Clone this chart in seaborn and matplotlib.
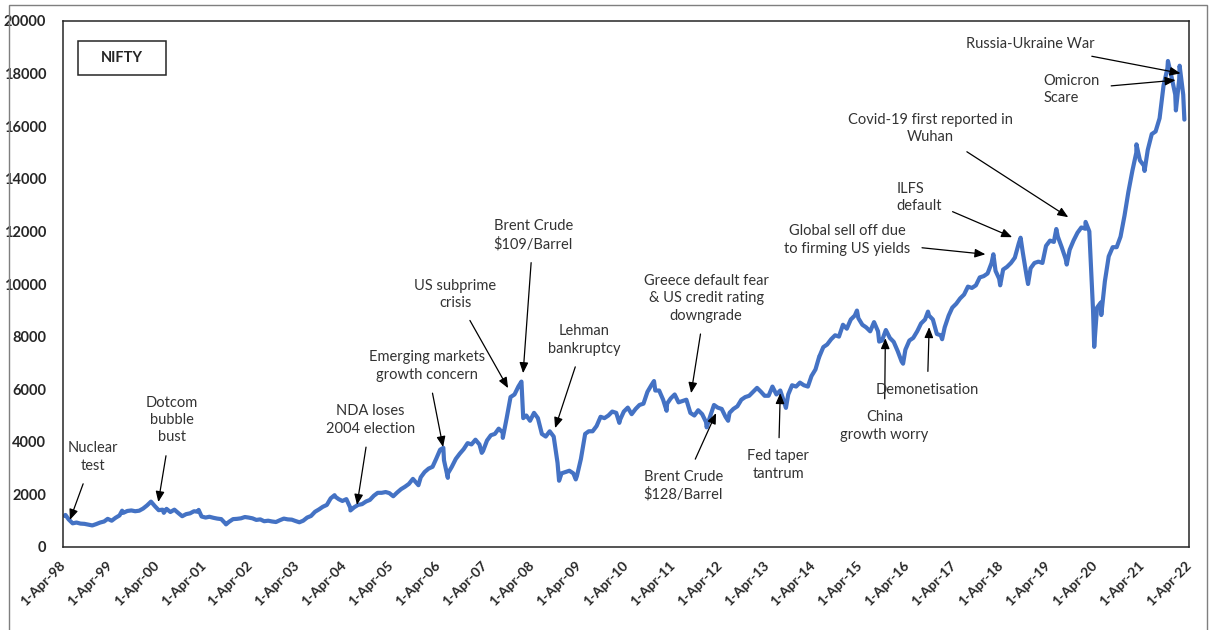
import matplotlib
matplotlib.use("Agg")
import matplotlib.pyplot as plt
import matplotlib.dates as mdates
from matplotlib.patches import Rectangle
import numpy as np
import pandas as pd
import seaborn as sns

# ---------------- data (NIFTY, monthly) ----------------
nifty_1998_2000 = [1180, 1050, 900, 930, 890, 880, 850, 820, 870,
                   930, 970, 1070, 1000, 1110, 1200, 1300, 1370, 1390, 1360, 1380, 1460,
                   1580, 1700, 1560, 1400, 1420, 1450, 1330, 1420, 1290, 1170, 1250, 1280]
nifty_2001_2003 = [1360, 1340, 1160, 1120, 1150, 1110, 1080, 1060, 900, 960, 1060, 1070,
                   1090, 1140, 1120, 1090, 1030, 1050, 980, 1000, 970, 950, 1020, 1080,
                   1050, 1040, 990, 940, 1000, 1120, 1180, 1340, 1430, 1530, 1600, 1850]
nifty_2004_2006 = [1930, 1820, 1750, 1820, 1500, 1510, 1600, 1630, 1730, 1790, 1950, 2060,
                   2060, 2090, 2050, 1930, 2070, 2200, 2290, 2400, 2590, 2420, 2650, 2850,
                   2980, 3050, 3350, 3700, 3300, 2800, 3050, 3350, 3550, 3720, 3950, 3900]
nifty_2007_2009 = [4080, 3900, 3650, 4050, 4250, 4300, 4500, 4350, 4900, 5700, 5800, 6100,
                   5600, 5000, 4800, 5100, 4900, 4300, 4200, 4400, 4200, 3200, 2800, 2850,
                   2900, 2800, 2700, 3350, 4200, 4400, 4400, 4600, 4950, 4900, 5000, 5150]
nifty_2010_2012 = [5100, 4850, 5150, 5300, 5050, 5250, 5400, 5450, 5900, 6150, 5950, 5950,
                   5600, 5450, 5650, 5800, 5500, 5550, 5600, 5100, 5000, 5200, 5050, 4750,
                   4950, 5400, 5300, 5250, 4950, 5100, 5250, 5350, 5600, 5700, 5750, 5900]
nifty_2013_2015 = [6050, 5900, 5750, 5750, 6100, 5800, 5950, 5500, 5800, 6150, 6100, 6250,
                   6150, 6100, 6500, 6750, 7250, 7600, 7700, 7900, 8050, 8000, 8450, 8300,
                   8650, 8800, 8700, 8450, 8350, 8200, 8550, 8200, 7850, 8250, 7950, 7800]
nifty_2016_2018 = [7450, 7050, 7500, 7850, 7950, 8200, 8500, 8650, 8800, 8650, 8100, 8050,
                   8350, 8800, 9100, 9250, 9450, 9600, 9900, 9850, 9950, 10250, 10300, 10400,
                   10800, 10500, 10200, 10550, 10650, 10800, 11000, 11550, 11200, 10300, 10600, 10800]
nifty_2019_2022 = [10850, 10800, 11450, 11650, 11600, 11800, 11400, 10950, 11300, 11650, 11950, 12150,
                   12100, 12000, 9000, 9100, 9300, 10100, 11050, 11400, 11400, 11800, 12600, 13500,
                   14300, 15000, 14700, 14500, 15100, 15700, 15800, 16300, 17550, 18200, 17900, 17200,
                   17800, 17200]

# notable highs / lows
swing_dates = ["1998-04-20", "1999-07-05", "2000-02-15", "2000-05-25", "2001-02-20",
               "2001-09-21", "2004-01-14", "2004-05-17", "2005-10-28", "2006-05-10",
               "2006-06-14", "2007-03-05", "2007-08-16", "2008-01-08", "2008-01-22",
               "2008-10-27", "2009-03-06", "2009-05-18", "2010-02-08", "2010-11-05",
               "2011-02-11", "2011-12-20", "2012-06-04", "2013-08-28", "2014-05-16",
               "2015-03-04", "2015-08-24", "2016-02-26", "2016-09-07", "2016-12-26",
               "2018-01-29", "2018-03-23", "2018-08-29", "2018-10-26", "2019-06-03",
               "2019-08-23", "2020-01-17", "2020-03-24", "2020-05-18", "2021-02-16",
               "2021-04-20", "2021-10-19", "2021-12-20", "2022-01-18", "2022-02-24"]
swing_values = [1220, 1380, 1750, 1300, 1410,
                860, 1970, 1390, 2350, 3770,
                2630, 3580, 4150, 6290, 4900,
                2520, 2570, 4300, 4720, 6310,
                5180, 4550, 4800, 5290, 7250,
                8990, 7810, 6970, 8950, 7900,
                11130, 9950, 11760, 10000, 12090,
                10740, 12360, 7610, 8820, 15310,
                14300, 18480, 16600, 18300, 16250]

year_ticks = list(range(1998, 2023))
tick_labels = [f"1-Apr-{y % 100:02d}" for y in year_ticks]

# ---------------- build frame ----------------
monthly = (nifty_1998_2000 + nifty_2001_2003 + nifty_2004_2006 + nifty_2007_2009 +
           nifty_2010_2012 + nifty_2013_2015 + nifty_2016_2018 + nifty_2019_2022)
month_idx = pd.date_range("1998-04-01", periods=len(monthly), freq="MS") + pd.Timedelta(days=14)
df = pd.concat([
    pd.DataFrame({"date": month_idx, "nifty": monthly}),
    pd.DataFrame({"date": pd.to_datetime(swing_dates), "nifty": swing_values}),
]).sort_values("date").reset_index(drop=True)

# ---------------- plot ----------------
sns.set_style("white")
plt.rcParams["font.family"] = ["Lato", "DejaVu Sans"]

fig = plt.figure(figsize=(12.11, 6.30), dpi=100)
ax = fig.add_axes([63 / 1211, 1 - 547 / 630, 1126 / 1211, 526 / 630])

sns.lineplot(data=df, x="date", y="nifty", ax=ax, color="#4472C4", linewidth=3.0)

ax.set_ylim(0, 20000)
ax.set_yticks(np.arange(0, 20001, 2000))
ax.set_xlim(pd.Timestamp("1998-04-01"), pd.Timestamp("2022-04-01"))
ax.set_xticks([pd.Timestamp(f"{y}-04-01") for y in year_ticks])
ax.set_xticklabels(tick_labels, rotation=45, ha="right", va="center",
                   rotation_mode="anchor", fontweight="bold", fontsize=10, color="#262626")
for lab in ax.get_yticklabels():
    lab.set_fontweight("bold")
    lab.set_fontsize(10.5)
    lab.set_color("#262626")
ax.set_xlabel("")
ax.set_ylabel("")
ax.tick_params(axis="x", direction="in", length=4, width=1, color="#404040", pad=12)
ax.tick_params(axis="y", length=0, pad=12)
for s in ax.spines.values():
    s.set_color("#262626")
    s.set_linewidth(1.1)

# NIFTY box
ax.add_patch(Rectangle((0.0133, 0.897), 0.0782, 0.065, transform=ax.transAxes,
                       fill=False, edgecolor="#262626", linewidth=1.1))
ax.text(0.0524, 0.930, "NIFTY", transform=ax.transAxes, ha="center", va="center",
        fontsize=10.5, fontweight="bold", color="#262626")

# annotations: (text, text_pos, target, alignment)
notes = [
    ("Nuclear\ntest", ("1998-11-20", 3420), ("1998-05-25", 1030), "center"),
    ("Dotcom\nbubble\nbust", ("2000-07-27", 4830), ("2000-04-12", 1710), "center"),
    ("NDA loses\n2004 election", ("2004-10-18", 4830), ("2004-07-07", 1600), "center"),
    ("Emerging markets\ngrowth concern", ("2006-01-04", 6880), ("2006-05-08", 3800), "center"),
    ("US subprime\ncrisis", ("2006-08-10", 9610), ("2007-09-26", 6040), "center"),
    ("Brent Crude\n$109/Barrel", ("2008-04-08", 11860), ("2008-01-21", 6610), "center"),
    ("Lehman\nbankruptcy", ("2009-05-10", 7870), ("2008-09-26", 4520), "center"),
    ("Greece default fear\n& US credit rating\ndowngrade", ("2011-12-16", 9460), ("2011-08-21", 5850), "center"),
    ("Brent Crude\n$128/Barrel", ("2011-06-20", 2320), ("2012-03-02", 5090), "center"),
    ("Fed taper\ntantrum", ("2013-06-30", 3120), ("2013-07-15", 5850), "center"),
    ("China\ngrowth worry", ("2015-10-04", 4600), ("2015-10-11", 7940), "center"),
    ("Demonetisation", ("2016-09-02", 5970), ("2016-09-16", 8360), "center"),
    ("Global sell off due\nto firming US yields", ("2014-12-19", 11670), ("2017-11-28", 11130), "center"),
    ("ILFS\ndefault", ("2016-01-03", 13300), ("2018-06-24", 11780), "left"),
    ("Covid-19 first reported in\nWuhan", ("2016-09-27", 15920), ("2019-09-04", 12540), "center"),
    ("Omicron\nScare", ("2019-02-22", 17400), ("2021-12-17", 17750), "left"),
    ("Russia-Ukraine War", ("2018-11-12", 19110), ("2022-01-25", 18010), "center"),
]
for txt, (tx, ty), (hx, hy), al in notes:
    ax.annotate(txt, xy=(mdates.date2num(pd.Timestamp(hx)), hy),
                xytext=(mdates.date2num(pd.Timestamp(tx)), ty),
                ha=al, va="center", multialignment=al, fontsize=10.5,
                color="#333333", linespacing=1.3,
                arrowprops=dict(arrowstyle="-|>,head_length=0.6,head_width=0.25",
                                color="black", lw=0.9, shrinkA=6, shrinkB=0))

# outer frame
fig.add_artist(Rectangle((9 / 1211, -0.01), 1198 / 1211, 1.0 - 5 / 630 + 0.01,
                         transform=fig.transFigure, fill=False,
                         edgecolor="#7f7f7f", linewidth=1.0))

fig.savefig("out.png", dpi=100)
